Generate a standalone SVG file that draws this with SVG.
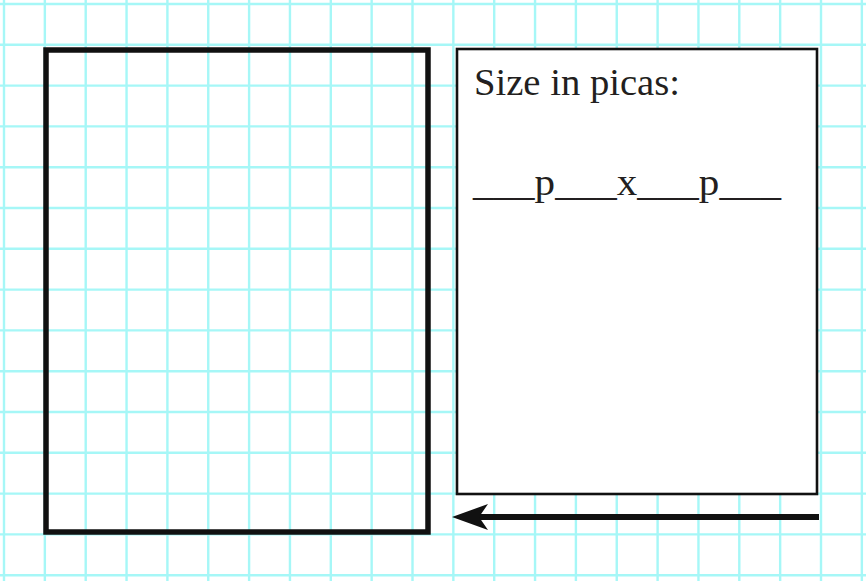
<svg xmlns="http://www.w3.org/2000/svg" width="866" height="581" viewBox="0 0 866 581">
<style>
.grid{stroke:#a6f7f7;stroke-width:2.4;fill:none}
.txt{font-family:"Liberation Serif","Times New Roman",serif;font-size:38.5px;fill:#231f20}
</style>
<defs>
<marker id="ah" markerUnits="userSpaceOnUse" markerWidth="40" markerHeight="30" refX="20" refY="15" orient="auto" viewBox="0 0 40 30">
<path d="M38,15 L2,2 L11,15 L2,28 Z" fill="#111"/>
</marker>
</defs>
<rect width="866" height="581" fill="#fff"/>
<g id="grid" class="grid">
<path d="M4,0V581M44.85,0V581M85.7,0V581M126.55,0V581M167.4,0V581M208.25,0V581M249.1,0V581M289.95,0V581M330.8,0V581M371.65,0V581M412.5,0V581M453.35,0V581M494.2,0V581M535.05,0V581M575.9,0V581M616.75,0V581M657.6,0V581M698.45,0V581M739.3,0V581M780.15,0V581M821,0V581M861.85,0V581"/>
<path d="M0,4H866M0,44.8H866M0,85.6H866M0,126.4H866M0,167.2H866M0,208H866M0,248.8H866M0,289.6H866M0,330.4H866M0,371.2H866M0,412H866M0,452.8H866M0,493.6H866M0,534.4H866M0,575.2H866"/>
</g>
<g id="frame">
<rect x="46" y="50" width="382" height="482" fill="none" stroke="#111" stroke-width="5.5"/>
</g>
<g id="size-box">
<rect x="457" y="49" width="360" height="445" fill="#fff" stroke="#111" stroke-width="2.6"/>
<text class="txt" x="474" y="95" textLength="206" lengthAdjust="spacingAndGlyphs">Size in picas:</text>
<text class="txt" x="473" y="195" textLength="308" lengthAdjust="spacingAndGlyphs">___p___x___p___</text>
</g>
<g id="connectors">
<line x1="819" y1="517" x2="470" y2="517" stroke="#111" stroke-width="6" marker-end="url(#ah)"/>
</g>
</svg>
